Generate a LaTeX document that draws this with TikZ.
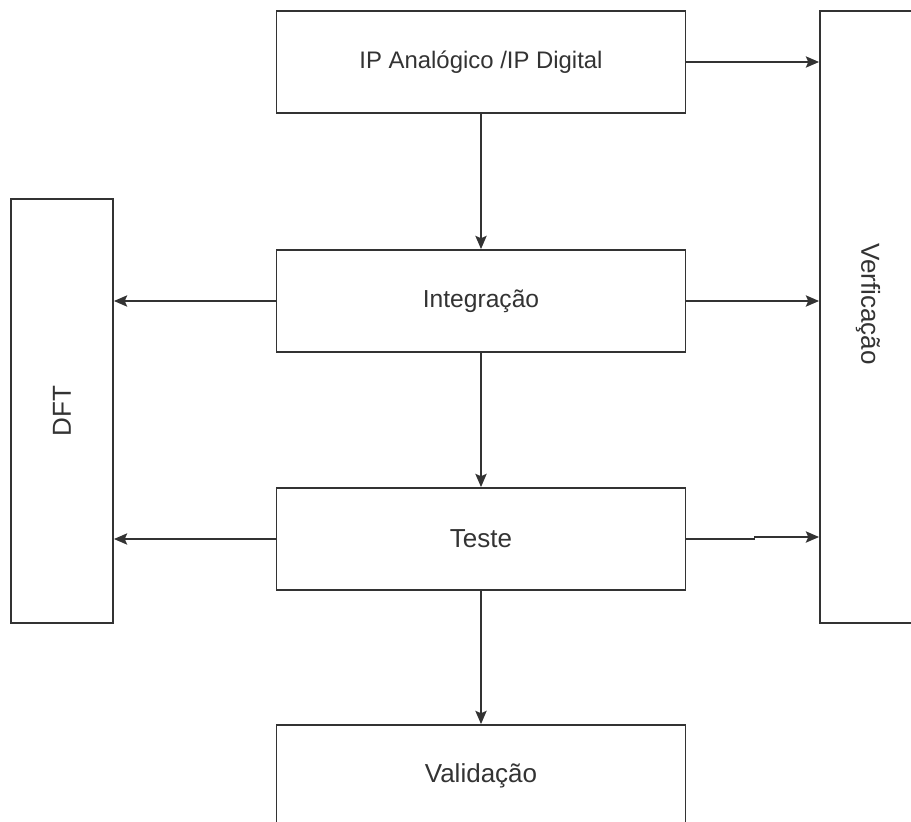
\documentclass[tikz,border=0pt]{standalone}
\usepackage{fontspec}
\setmainfont{Liberation Sans}
\usepackage{tikz}
\usetikzlibrary{arrows.meta, positioning, calc}

\definecolor{linegray}{HTML}{333333}
\definecolor{textgray}{HTML}{333333}

\begin{document}
\begin{tikzpicture}[
    x=0.025cm, y=-0.025cm,
    block/.style={draw=linegray, line width=1.3pt, minimum width=10.225cm, minimum height=2.55cm,
                  inner sep=0pt, text=textgray, font=\fontsize{17pt}{20pt}\selectfont},
    bigblock/.style={block, font=\fontsize{18.5pt}{22pt}\selectfont},
    sideblock/.style={draw=linegray, line width=1.3pt, minimum width=2.55cm, inner sep=0pt,
                  text=textgray, font=\fontsize{18.5pt}{22pt}\selectfont},
    arr/.style={draw=linegray, line width=1.3pt, -{Stealth[length=0.33cm, width=0.28cm, inset=0.06cm]}}
]
    \useasboundingbox (0,0) rectangle (911,821);

    % blocos centrais
    \node[block] (ipbox) at (481,62) {IP Analógico /IP Digital};
    \node[block, font=\fontsize{17.5pt}{21pt}\selectfont] (integ) at (481,301) {Integração};
    \node[bigblock] (teste) at (481,539) {Teste};
    \node[bigblock] (valid) at (481,776) {Validação};

    % blocos laterais
    \node[sideblock, minimum height=10.6cm] (dft) at (62,411) {\rotatebox{90}{DFT}};
    \node[sideblock, minimum height=15.3cm] (verif) at (871,317) {};
    \node[text=textgray, font=\fontsize{18.5pt}{22pt}\selectfont, rotate=-90] (veriftxt) at (868,304) {Verficação};

    % ligações
    \draw[arr] (ipbox.south) -- (integ.north);
    \draw[arr] (integ.south) -- (teste.north);
    \draw[arr] (teste.south) -- (valid.north);

    \draw[arr] (ipbox.east) -- (ipbox.east -| verif.west);
    \draw[arr] (integ.east) -- (integ.east -| verif.west);
    \draw[arr] (teste.east) -- ++(68,0) |- (verif.west |- 0,537);

    \draw[arr] (integ.west) -- (integ.west -| dft.east);
    \draw[arr] (teste.west) -- (teste.west -| dft.east);
\end{tikzpicture}
\end{document}
